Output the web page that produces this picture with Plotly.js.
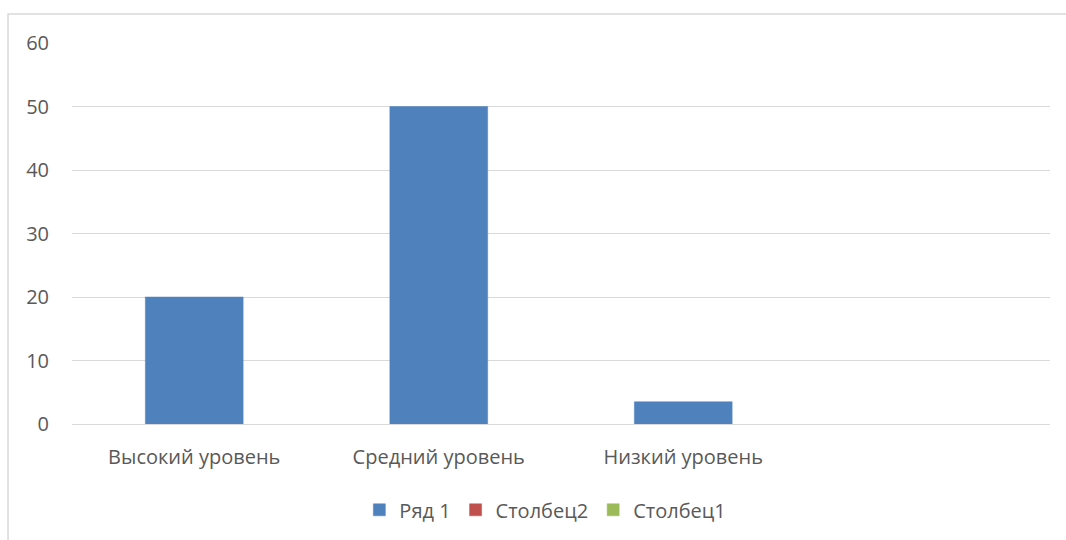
<!DOCTYPE html>
<html>
<head>
<meta charset="utf-8">
<script src="https://cdn.plot.ly/plotly-3.0.1.min.js"></script>
<style>html,body{margin:0;padding:0;background:#fff;}#chart{width:1066px;height:540px;}</style>
</head>
<body>
<div id="chart"></div>
<script>
var categories = ["Высокий уровень", "Средний уровень", "Низкий уровень"];
var series1Name = "Ряд 1";
var series1 = [20, 50, 3.5];
var series2Name = "Столбец2";
var series2 = [null, null, null];
var series3Name = "Столбец1";
var series3 = [null, null, null];
var yTicks = [0, 10, 20, 30, 40, 50, 60];

var fontFam = "Open Sans, Liberation Sans, sans-serif";
var traces = [
  {type: "bar", name: series1Name, x: categories, y: series1, width: 0.4, marker: {color: "#4f81bd", line: {color: "#4f81bd", width: 0.5}}},
  {type: "bar", name: series2Name, x: categories, y: series2, width: 0.4, marker: {color: "#c0504d", line: {color: "#c0504d", width: 0.5}}},
  {type: "bar", name: series3Name, x: categories, y: series3, width: 0.4, marker: {color: "#9bbb59", line: {color: "#9bbb59", width: 0.5}}}
];
var layout = {
  width: 1066, height: 540,
  margin: {l: 72, r: 16, t: 43, b: 115},
  paper_bgcolor: "#fff", plot_bgcolor: "#fff",
  barmode: "overlay",
  showlegend: true,
  font: {family: fontFam, color: "#595959", size: 20},
  xaxis: {type: "category", range: [-0.5, 3.5], showgrid: false, zeroline: false,
          showline: false, ticks: "", tickfont: {size: 20, color: "#595959"}, ticklabelstandoff: 19, fixedrange: true},
  yaxis: {range: [0, 60], tickvals: yTicks, showgrid: true, gridcolor: "#d9d9d9", gridwidth: 1,
          zeroline: true, zerolinecolor: "#d9d9d9", zerolinewidth: 1, showline: false, ticks: "",
          tickfont: {size: 20, color: "#595959"}, ticklabelstandoff: 22, fixedrange: true},
  legend: {orientation: "h", x: 0.484, xanchor: "center", y: -0.222, yanchor: "middle",
           font: {size: 20, color: "#595959"}, itemclick: false, traceorder: "normal", itemwidth: 30},
  shapes: [{type: "rect", xref: "paper", yref: "paper", x0: -0.0654, x1: 1.2, y0: -0.5, y1: 1.0759,
            line: {color: "#d9d9d9", width: 1.5}, fillcolor: "rgba(0,0,0,0)", layer: "below"}]
};
Plotly.newPlot("chart", traces, layout, {displayModeBar: false, staticPlot: true});
</script>
</body>
</html>
